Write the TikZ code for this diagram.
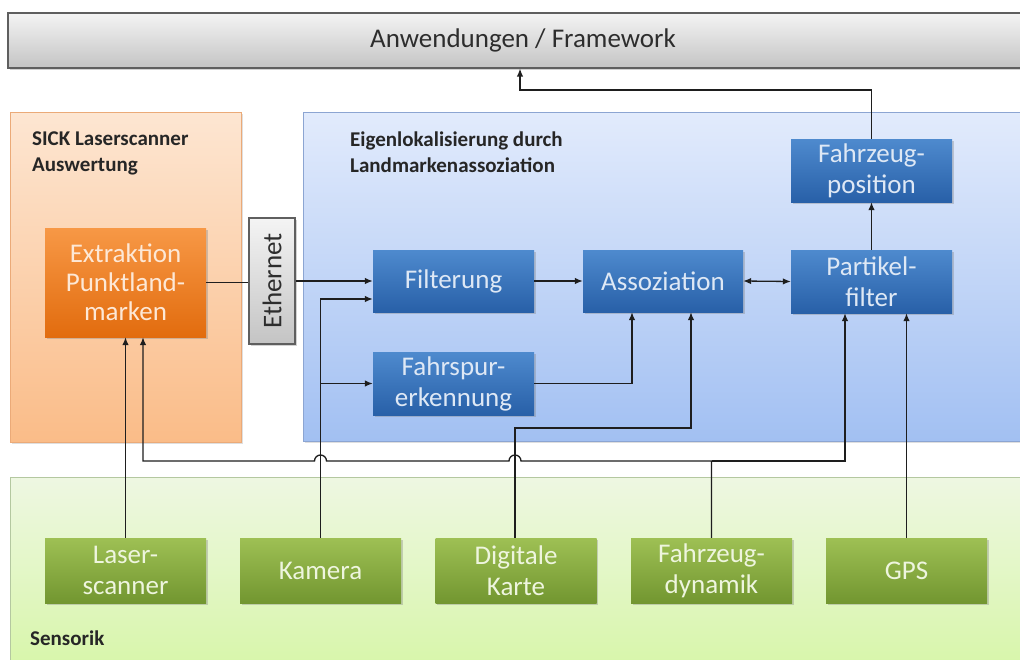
\documentclass[tikz,border=0pt]{standalone}
\usepackage{fontspec}
\usepackage{graphicx}
\setmainfont{Carlito}
\usetikzlibrary{shadows,arrows.meta,calc}
\definecolor{linec}{RGB}{30,30,30}
\definecolor{bluetop}{RGB}{78,138,206}
\definecolor{bluebot}{RGB}{40,96,168}
\definecolor{bluetxt}{RGB}{222,232,245}
\definecolor{greentop}{RGB}{158,192,84}
\definecolor{greenbot}{RGB}{114,150,48}
\definecolor{greentxt}{RGB}{238,245,222}
\definecolor{orangetop}{RGB}{247,152,70}
\definecolor{orangebot}{RGB}{226,108,14}
\definecolor{orangetxt}{RGB}{253,232,214}
\definecolor{graytop}{RGB}{244,244,244}
\definecolor{graybot}{RGB}{196,196,196}
\definecolor{grayline}{RGB}{95,95,95}
\definecolor{graytxt}{RGB}{45,45,45}
\tikzset{
  boxbase/.style={rectangle, inner sep=2pt, align=center,
    font=\fontsize{27}{31}\selectfont,
    drop shadow={opacity=0.35, shadow xshift=1.5pt, shadow yshift=-2pt}},
  bluebox/.style={boxbase, top color=bluetop, bottom color=bluebot, text=bluetxt,
    minimum width=161, minimum height=63},
  greenbox/.style={boxbase, top color=greentop, bottom color=greenbot, text=greentxt,
    minimum width=161, minimum height=65},
  orangebox/.style={boxbase, top color=orangetop, bottom color=orangebot, text=orangetxt,
    minimum width=161, minimum height=109, font=\fontsize{27}{29}\selectfont},
  graybox/.style={boxbase, top color=graytop, bottom color=graybot, text=graytxt,
    draw=grayline, line width=1.2pt},
  paneltitle/.style={anchor=north west, inner sep=0pt, align=left,
    font=\bfseries\fontsize{21}{25.5}\selectfont, text=black!85},
  conn/.style={draw=linec, line width=1.3pt},
  arr/.style={conn, -{Latex[length=8pt,width=6.5pt]}},
  darr/.style={conn, {Latex[length=8pt,width=6.5pt]}-{Latex[length=8pt,width=6.5pt]}}
}
\begin{document}
\begin{tikzpicture}[x=1pt,y=-1pt]
\useasboundingbox (0,0) rectangle (1020,659);
\fill[white] (0,0) rectangle (1020,659);

% panels
\path[top color={rgb,255:red,253;green,230;blue,210}, bottom color={rgb,255:red,250;green,188;blue,136},
      draw={rgb,255:red,235;green,170;blue,120}, line width=0.8pt,
      drop shadow={opacity=0.25, shadow xshift=1.5pt, shadow yshift=-2pt}]
      (10,112) rectangle (241,442);
\path[top color={rgb,255:red,226;green,235;blue,252}, bottom color={rgb,255:red,162;green,192;blue,242},
      draw={rgb,255:red,140;green,165;blue,210}, line width=0.8pt,
      drop shadow={opacity=0.25, shadow xshift=1.5pt, shadow yshift=-2pt}]
      (303,112) rectangle (1040,441);
\path[top color={rgb,255:red,238;green,247;blue,226}, bottom color={rgb,255:red,214;green,246;blue,166},
      draw={rgb,255:red,180;green,200;blue,160}, line width=0.8pt]
      (10,477) rectangle (1040,680);

% top bar
\node[graybox, minimum width=1030, minimum height=55, text=graytxt] (app) at (523,40.5) {Anwendungen / Framework};

% titles
\node[paneltitle] (t1) at (32,132) {SICK Laserscanner\\Auswertung};
\node[paneltitle] (t2) at (350,132) {Eigenlokalisierung durch\\Landmarkenassoziation};
\node[paneltitle, anchor=west] (t3) at (30,638) {Sensorik};

% boxes
\node[orangebox] (ext) at (125.5,282.5) {Extraktion\\Punktland-\\marken};
\node[graybox, minimum width=46, minimum height=126, inner sep=0pt] (eth) at (272,281) {\rotatebox{90}{Ethernet}};
\node[bluebox, minimum height=62] (filt) at (453.5,281) {Filterung};
\node[bluebox] (fahr) at (453.5,383.5) {Fahrspur-\\erkennung};
\node[bluebox, minimum width=160, minimum height=62] (asso) at (663,281) {Assoziation};
\node[bluebox] (part) at (871.5,281.5) {Partikel-\\filter};
\node[bluebox] (pos) at (871.5,170.5) {Fahrzeug-\\position};

\node[greenbox] (las) at (125.5,570.5) {Laser-\\scanner};
\node[greenbox] (kam) at (320.5,570.5) {Kamera};
\node[greenbox] (kar) at (516,570.5) {Digitale\\Karte};
\node[greenbox] (dyn) at (711.5,570.5) {Fahrzeug-\\dynamik};
\node[greenbox] (gps) at (906.5,570.5) {GPS};

% helper coordinates
\coordinate (fcin) at ($(filt.west)+(0,18)$);
\coordinate (busL) at (143,461);
\coordinate (busR) at (845,461);
\coordinate (dm) at (691,428);
\coordinate (fa) at (632,383.5);
\coordinate (tp) at (520,90);
\coordinate (kx) at (320.5,461);
\coordinate (mx) at (515,461);

% connectors
\draw[conn] (ext.east) -- (ext.east -| eth.west);
\draw[arr] (eth.east |- filt.west) -- (filt.west);
\draw[arr] (kam.north) -- (kam.north |- fcin) -- (fcin);
\draw[arr] (kam.north |- fahr.west) -- (fahr.west);
\draw[arr] (las.north) -- (las.north |- ext.south);
\draw[arr] (dyn.north) -- (dyn.north |- busL) -- ($(mx)+(6,0)$) arc[start angle=0,end angle=-180,radius=6]
   -- ($(kx)+(6,0)$) arc[start angle=0,end angle=-180,radius=6] -- (busL) -- (busL |- ext.south);
\draw[arr] (dyn.north |- busR) -- (busR) -- (busR |- part.south);
\draw[arr] (kar.north -| mx) -- (mx |- dm) -- (dm) -- (dm |- asso.south);
\draw[arr] (fahr.east) -- (fa) -- (fa |- asso.south);
\draw[arr] (filt.east) -- (asso.west);
\draw[darr] (asso.east) -- (part.west);
\draw[arr] (part.north) -- (pos.south);
\draw[arr] (gps.north) -- (gps.north |- part.south);
\draw[arr] (pos.north) -- (pos.north |- tp) -- (tp) -- (tp |- app.south);
\end{tikzpicture}
\end{document}
